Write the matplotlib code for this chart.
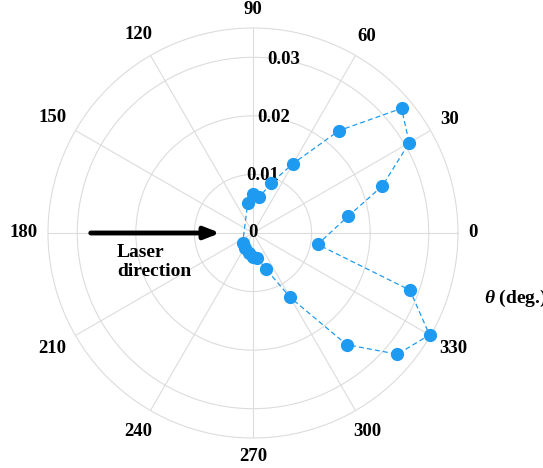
import numpy as np
import matplotlib
matplotlib.use("Agg")
import matplotlib.pyplot as plt

plt.rcParams['font.family'] = ['Liberation Serif', 'DejaVu Serif']
plt.rcParams['font.weight'] = 'bold'
plt.rcParams['mathtext.fontset'] = 'custom'
plt.rcParams['mathtext.it'] = 'Liberation Serif:italic:bold'
plt.rcParams['mathtext.rm'] = 'Liberation Serif:bold'

# angles in degrees, intensity values
angle_deg = [10, 20, 30, 40, 50, 60, 70, 80, 90, 100,
             225, 240, 260, 270, 280, 290, 300, 310, 320, 330, 340, 350]
intensity = [0.0165, 0.0235, 0.0308, 0.0331, 0.0228, 0.0137, 0.0091, 0.0062, 0.0067, 0.0052,
             0.0025, 0.0029, 0.0035, 0.0041, 0.0044, 0.0066, 0.0127, 0.0249, 0.0322, 0.0348, 0.0285, 0.0112]
r_ticks = [0, 0.01, 0.02, 0.03]
r_max = 0.035
theta_ticks = list(range(0, 360, 30))

blue = '#1E9BF0'

fig = plt.figure(figsize=(5.43, 4.68), dpi=100)
ax = fig.add_axes([48 / 543, 30 / 468, 410 / 543, 410 / 468], projection='polar')

th = np.deg2rad(angle_deg + [angle_deg[0]])
rr = intensity + [intensity[0]]
ax.plot(th, rr, linestyle='--', color=blue, linewidth=0.9, dashes=(4, 2.5), clip_on=False)
ax.plot(np.deg2rad(angle_deg), intensity, 'o', color=blue, markersize=8.5,
        linestyle='none', clip_on=False, zorder=5)

ax.set_ylim(0, r_max)
ax.set_yticks(r_ticks)
ax.set_yticklabels(['0', '0.01', '0.02', '0.03'])
ax.set_rlabel_position(80)
for lab in ax.get_yticklabels():
    lab.set_ha('center')
    lab.set_va('center')
    lab.set_fontsize(13.5)
    lab.set_fontweight('bold')

# theta labels placed by hand, a fixed gap outside the outer ring
ax.set_xticks(np.deg2rad(theta_ticks))
ax.set_xticklabels([])
theta_labels = []
for t in theta_ticks:
    a = ax.annotate(str(t), xy=(np.deg2rad(t), r_max), xytext=(0, 0),
                    textcoords='offset pixels', ha='center', va='center',
                    fontsize=13.5, fontweight='bold', annotation_clip=False)
    theta_labels.append((t, a))

ax.grid(True, color='#dcdcdc', linewidth=0.8)
ax.spines['polar'].set_color('#dcdcdc')
ax.spines['polar'].set_linewidth(0.8)

fig.canvas.draw()
renderer = fig.canvas.get_renderer()
gap = 10
for t, a in theta_labels:
    bb = a.get_window_extent(renderer)
    c, s = np.cos(np.deg2rad(t)), np.sin(np.deg2rad(t))
    d = gap + abs(c) * bb.width / 2 + abs(s) * bb.height / 2
    a.xyann = (d * c, d * s)

# laser arrow
ax.annotate('', xy=(np.pi, 0.0056), xytext=(np.pi, 0.0277),
            arrowprops=dict(arrowstyle='-|>,head_length=0.9,head_width=0.35',
                            color='black', lw=3.5, shrinkA=0, shrinkB=0))
fig.text(117 / 543, 1 - 262 / 468, 'Laser\ndirection', fontsize=14, fontweight='bold',
         ha='left', va='center', linespacing=1.1)

fig.text(484 / 543, 1 - 298 / 468, r'$\theta$ (deg.)', fontsize=14, fontweight='bold',
         ha='left', va='center')

fig.savefig('out.png', dpi=100)
